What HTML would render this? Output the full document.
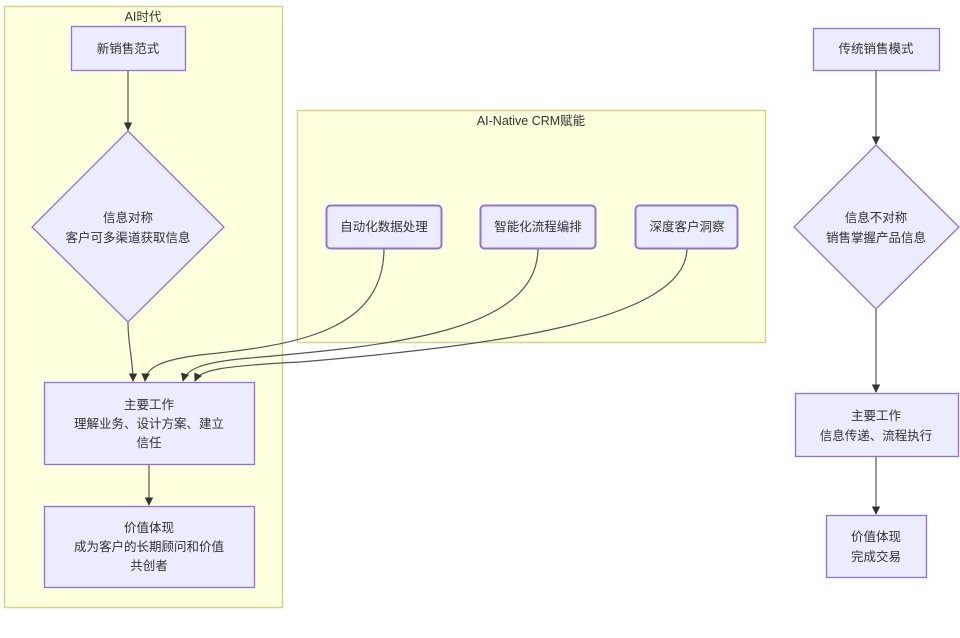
<!DOCTYPE html>
<html><head><meta charset="utf-8"><style>
body{margin:0;background:#fff;}
svg text{font-family:"Liberation Sans","Noto Sans CJK SC",sans-serif;font-size:12.5px;fill:#333;text-anchor:middle;}
</style></head><body>
<svg width="960" height="633" viewBox="0 0 960 633" xmlns="http://www.w3.org/2000/svg">
<defs><marker id="a" viewBox="0 0 10 10" refX="9" refY="5" markerWidth="7" markerHeight="7" orient="auto"><path d="M0,0L10,5L0,10z" fill="#333"/></marker></defs>
<rect x="4.5" y="6.5" width="278" height="601" fill="#ffffde" stroke="#d4d48a" stroke-width="1.5"/>
<text x="143" y="21">AI时代</text>
<rect x="297.5" y="110.5" width="468" height="232" fill="#ffffde" stroke="#d4d48a" stroke-width="1.5"/>
<text x="531" y="125">AI-Native CRM赋能</text>
<g fill="none" stroke="#555" stroke-width="1.2">
<path d="M128,70V130" marker-end="url(#a)"/>
<path d="M128,322C128,345 133,360 133,381" marker-end="url(#a)"/>
<path d="M384,248C384,330 300,345 200,355C160,360 146,368 145,381" marker-end="url(#a)"/>
<path d="M538,248C538,330 400,345 250,358C200,362 186,370 183,381" marker-end="url(#a)"/>
<path d="M687,248C687,320 500,345 300,362C220,366 200,370 195,381" marker-end="url(#a)"/>
<path d="M149,464V505" marker-end="url(#a)"/>
<path d="M876,70V144" marker-end="url(#a)"/>
<path d="M876,309V392" marker-end="url(#a)"/>
<path d="M876,456V514" marker-end="url(#a)"/>
</g>
<g fill="#ececff" stroke="#9370db" stroke-width="1.3">
<rect x="71.5" y="26.5" width="114" height="44"/>
<polygon points="128,131 224,227 128,322 32,227"/>
<rect x="44.5" y="382.5" width="210" height="82"/>
<rect x="44.5" y="506.5" width="210" height="81"/>
<rect x="326.5" y="205.5" width="115" height="43" rx="4" stroke-width="2"/>
<rect x="480.5" y="205.5" width="115" height="43" rx="4" stroke-width="2"/>
<rect x="635.5" y="205.5" width="102" height="43" rx="4" stroke-width="2"/>
<rect x="813.5" y="28.5" width="126" height="42"/>
<polygon points="876,145 959,227 876,309 794,227"/>
<rect x="795.5" y="393.5" width="163" height="63"/>
<rect x="826.5" y="515.5" width="100" height="62"/>
</g>
<text x="128" y="53">新销售范式</text>
<text x="128" y="222">信息对称</text><text x="128" y="242">客户可多渠道获取信息</text>
<text x="149" y="409">主要工作</text><text x="149" y="428">理解业务、设计方案、建立</text><text x="149" y="447">信任</text>
<text x="149" y="532">价值体现</text><text x="149" y="551">成为客户的长期顾问和价值</text><text x="149" y="570">共创者</text>
<text x="384" y="231">自动化数据处理</text>
<text x="538" y="231">智能化流程编排</text>
<text x="687" y="231">深度客户洞察</text>
<text x="876" y="53">传统销售模式</text>
<text x="876" y="222">信息不对称</text><text x="876" y="242">销售掌握产品信息</text>
<text x="876" y="420">主要工作</text><text x="876" y="440">信息传递、流程执行</text>
<text x="876" y="541">价值体现</text><text x="876" y="561">完成交易</text>
</svg>
</body></html>
